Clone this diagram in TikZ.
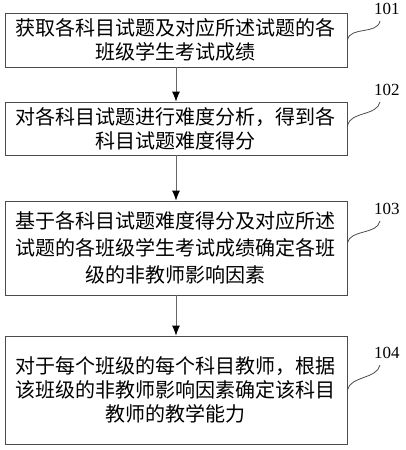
\documentclass[tikz,border=0pt]{standalone}
\usepackage{fontspec}
\setmainfont{Liberation Serif}
\newfontfamily\cjk{Noto Sans CJK SC}
\usetikzlibrary{arrows.meta}
\usetikzlibrary{positioning}

\begin{document}
\begin{tikzpicture}[x=1pt,y=-1pt,
  stepbox/.style={draw=black!70,line width=0.8pt,minimum width=342pt,inner sep=0pt,
    align=center,node font={\cjk\fontsize{20}{24}\selectfont}},
  num/.style={inner sep=0pt,font=\fontsize{17}{17}\selectfont},
  flow/.style={draw=black!60,line width=0.8pt,-{Latex[length=10pt,width=8pt,color=black]}},
  lead/.style={draw=black!70,line width=0.8pt}]

\useasboundingbox (0,0) rectangle (405,450);

% steps
\node[stepbox,minimum height=54pt] (b1) at (176,40) {获取各科目试题及对应所述试题的各\\班级学生考试成绩};
\node[stepbox,minimum height=53pt] (b2) at (176,128.5) {对各科目试题进行难度分析，得到各\\科目试题难度得分};
\node[stepbox,minimum height=94pt,node font={\cjk\fontsize{20}{27}\selectfont}] (b3) at (176,248) {基于各科目试题难度得分及对应所述\\试题的各班级学生考试成绩确定各班\\级的非教师影响因素};
\node[stepbox,minimum height=108pt] (b4) at (176,390) {对于每个班级的每个科目教师，根据\\该班级的非教师影响因素确定该科目\\教师的教学能力};

\draw[flow] (b1) -- (b2);
\draw[flow] (b2) -- (b3);
\draw[flow] (b3) -- (b4);

% step numbers
\coordinate (e1) at (380,21);
\coordinate (e2) at (380,102);
\coordinate (e3) at (380,221);
\coordinate (e4) at (380,365);

\node[num,above right=6pt and -6pt of e1] (l1) {101};
\node[num,above right=6pt and -6pt of e2] (l2) {102};
\node[num,above right=6pt and -6pt of e3] (l3) {103};
\node[num,above right=6pt and -6pt of e4] (l4) {104};

\draw[lead] (b1.east) .. controls +(3,-14) and +(-3,14) .. (e1);
\draw[lead] ([yshift=3pt]b2.east) .. controls +(3,-14) and +(-3,14) .. (e2);
\draw[lead] ([yshift=5pt]b3.east) .. controls +(3,-14) and +(-3,14) .. (e3);
\draw[lead] (b4.east) .. controls +(3,-14) and +(-3,14) .. (e4);

\end{tikzpicture}
\end{document}
